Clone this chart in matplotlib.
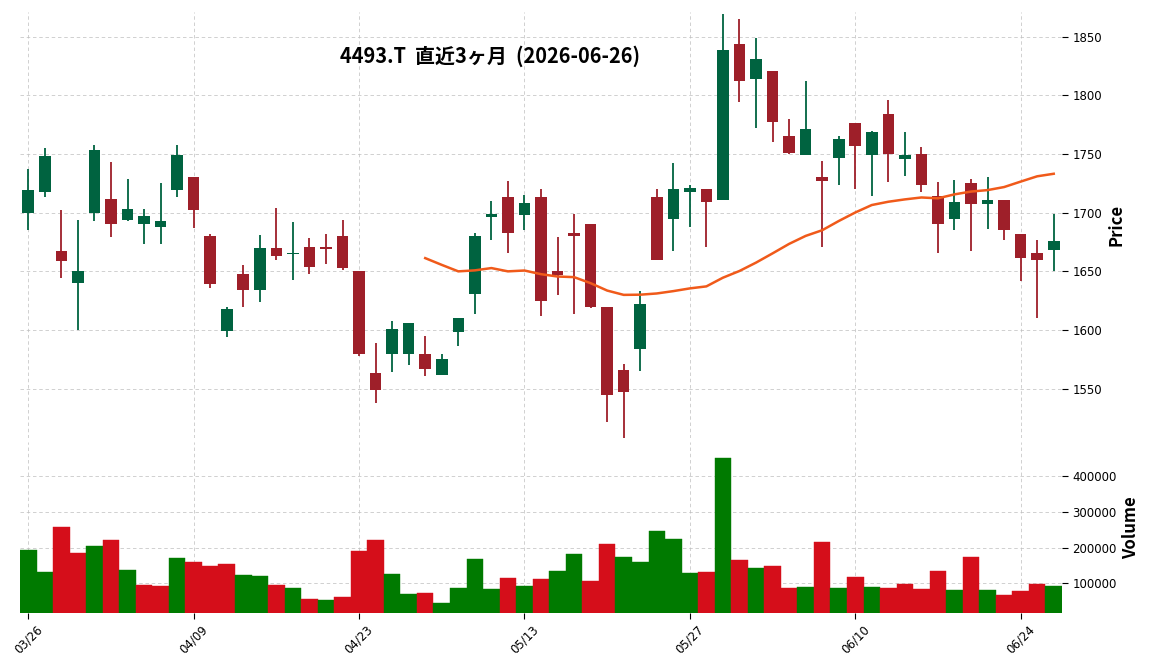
import matplotlib
matplotlib.use("Agg")
import matplotlib.pyplot as plt
import numpy as np
import pandas as pd

# trading days shown (2026)
dates = [
    "03/26", "03/27", "03/30", "03/31", "04/01", "04/02", "04/03", "04/06", "04/07", "04/08",
    "04/09", "04/10", "04/13", "04/14", "04/15", "04/16", "04/17", "04/20", "04/21", "04/22",
    "04/23", "04/24", "04/27", "04/28", "04/30", "05/01", "05/07", "05/08", "05/11", "05/12",
    "05/13", "05/14", "05/15", "05/18", "05/19", "05/20", "05/21", "05/22", "05/25", "05/26",
    "05/27", "05/28", "05/29", "06/01", "06/02", "06/03", "06/04", "06/05", "06/08", "06/09",
    "06/10", "06/11", "06/12", "06/15", "06/16", "06/17", "06/18", "06/19", "06/22", "06/23",
    "06/24", "06/25", "06/26",
]
opens = [
    1700, 1718, 1667, 1640, 1700, 1712, 1694, 1690, 1688, 1719,
    1730, 1680, 1599, 1648, 1634, 1670, 1665, 1671, 1671, 1680,
    1650, 1563, 1580, 1580, 1580, 1562, 1598, 1631, 1696, 1713,
    1698, 1713, 1650, 1683, 1690, 1620, 1566, 1584, 1713, 1695,
    1718, 1720, 1711, 1844, 1814, 1821, 1765, 1749, 1730, 1747,
    1776, 1749, 1784, 1746, 1750, 1714, 1695, 1725, 1707, 1711,
    1682, 1666, 1668,
]
highs = [
    1737, 1755, 1702, 1694, 1758, 1743, 1729, 1703, 1725, 1758,
    1730, 1682, 1620, 1655, 1681, 1704, 1692, 1678, 1682, 1694,
    1650, 1589, 1608, 1606, 1595, 1580, 1610, 1683, 1710, 1727,
    1715, 1720, 1679, 1699, 1690, 1620, 1571, 1633, 1720, 1742,
    1724, 1720, 1869, 1865, 1849, 1821, 1780, 1812, 1744, 1765,
    1776, 1770, 1796, 1769, 1756, 1726, 1728, 1729, 1730, 1711,
    1682, 1677, 1699,
]
lows = [
    1685, 1713, 1644, 1600, 1693, 1679, 1693, 1673, 1673, 1713,
    1687, 1636, 1594, 1620, 1624, 1660, 1643, 1648, 1656, 1651,
    1578, 1538, 1564, 1570, 1561, 1562, 1586, 1614, 1677, 1666,
    1685, 1612, 1630, 1614, 1619, 1522, 1508, 1565, 1660, 1667,
    1688, 1671, 1711, 1794, 1772, 1760, 1750, 1749, 1671, 1724,
    1720, 1714, 1726, 1731, 1718, 1666, 1685, 1667, 1686, 1677,
    1642, 1610, 1650,
]
closes = [
    1719, 1748, 1659, 1650, 1753, 1690, 1703, 1697, 1693, 1749,
    1702, 1639, 1618, 1634, 1670, 1663, 1666, 1654, 1669, 1653,
    1580, 1549, 1601, 1606, 1567, 1575, 1610, 1680, 1699, 1683,
    1708, 1625, 1647, 1680, 1620, 1545, 1547, 1622, 1660, 1720,
    1721, 1709, 1839, 1812, 1831, 1777, 1751, 1771, 1727, 1763,
    1757, 1769, 1750, 1749, 1724, 1690, 1709, 1707, 1711, 1685,
    1661, 1660, 1676,
]
volumes = [
    193000, 132000, 258000, 185000, 205000, 221000, 137000, 95000, 92000, 171000,
    160000, 149000, 154000, 123000, 121000, 95000, 87000, 56000, 53000, 62000,
    191000, 221000, 126000, 70000, 73000, 45000, 87000, 168000, 84000, 115000,
    92000, 112000, 135000, 182000, 106000, 210000, 174000, 160000, 247000, 224000,
    129000, 132000, 451000, 165000, 143000, 149000, 87000, 90000, 216000, 87000,
    118000, 90000, 87000, 98000, 84000, 135000, 81000, 174000, 81000, 67000,
    78000, 98000, 92000,
]
title = "4493.T  直近3ヶ月  (2026-06-26)"
mav = 25

UP, DOWN = "#006340", "#9e1f29"
VOL_UP, VOL_DOWN = "#007a00", "#d50e1a"
MA_COLOR = "#f05a1a"

plt.rcParams["font.family"] = ["Noto Sans CJK JP", "DejaVu Sans"]

x = np.arange(len(dates))
o = np.array(opens)
h = np.array(highs)
l = np.array(lows)
c = np.array(closes)
v = np.array(volumes)

fig = plt.figure(figsize=(11.52, 6.70), dpi=100)
ax = fig.add_axes([20 / 1152, 1 - 438 / 670, 1042 / 1152, 426 / 670])
axv = fig.add_axes([20 / 1152, 1 - 612.7 / 670, 1042 / 1152, 170.7 / 670], sharex=ax)

# candles
up = c >= o
colors = np.where(up, UP, DOWN)
ax.vlines(x, l, h, colors=colors, linewidth=1.3, zorder=2)
ax.bar(x, np.abs(c - o), bottom=np.minimum(o, c), width=0.7, color=colors,
       linewidth=0, zorder=3)

# moving average
ma = pd.Series(c, dtype=float).rolling(mav).mean()
ax.plot(x, ma, color=MA_COLOR, linewidth=1.8, zorder=4)

# volume coloured by close vs previous close
vup = np.concatenate([[True], c[1:] >= c[:-1]])
vcolors = np.where(vup, VOL_UP, VOL_DOWN)
axv.bar(x, v, width=1.0, color=vcolors, edgecolor=vcolors, linewidth=0.3, zorder=3)

ax.set_xlim(-0.5, len(dates) - 0.5)
ax.set_ylim(1508, 1871)
axv.set_ylim(18000, 496000)

tick_idx = x[::10]
for a in (ax, axv):
    a.grid(True, linestyle=(0, (5, 4)), color="#bdbdbd", linewidth=0.5, zorder=0)
    a.set_axisbelow(True)
    for s in a.spines.values():
        s.set_visible(False)
    a.yaxis.tick_right()
    a.yaxis.set_label_position("right")
    a.tick_params(axis="both", labelsize=8.5, length=4, width=0.8)

ax.set_yticks(np.arange(1550, 1851, 50))
ax.set_yticklabels([str(t) for t in np.arange(1550, 1851, 50)], family="DejaVu Sans")
axv.set_yticks([100000, 200000, 300000, 400000])
axv.set_yticklabels(["100000", "200000", "300000", "400000"], family="DejaVu Sans")

axv.set_xticks(tick_idx)
axv.set_xticklabels([dates[i] for i in tick_idx], rotation=45, ha="center",
                    family="DejaVu Sans")
ax.tick_params(axis="x", labelbottom=False, length=0)

ax.set_ylabel("Price", fontsize=12, fontweight="bold")
axv.set_ylabel("Volume", fontsize=12, fontweight="bold")

ax.text(0.451, 0.897, title, transform=ax.transAxes, ha="center", va="center",
        fontsize=14.4, fontweight="bold")

fig.savefig("out.png", dpi=100)
